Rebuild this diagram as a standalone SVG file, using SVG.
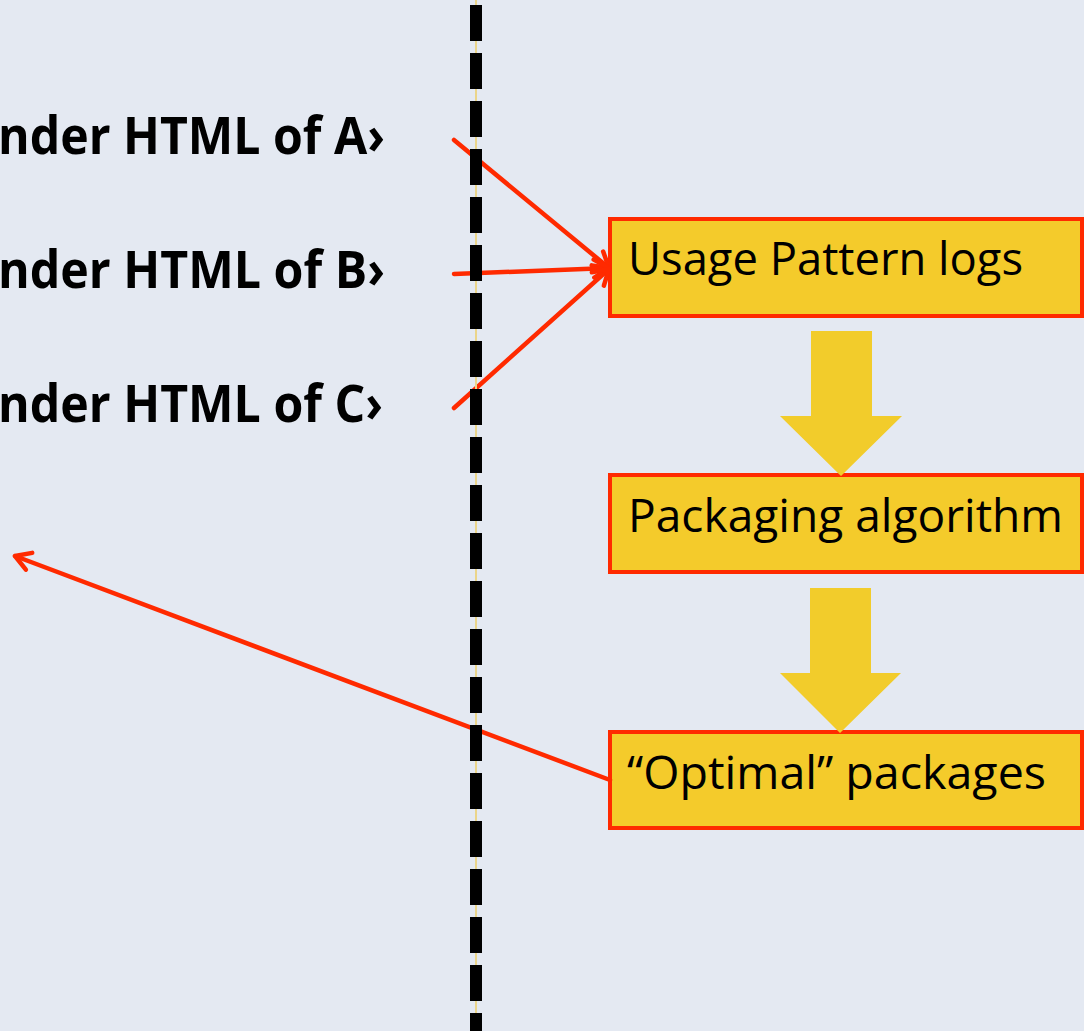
<svg xmlns="http://www.w3.org/2000/svg" width="1084" height="1031" viewBox="0 0 1084 1031">
  <style>
    .label { font-family: "Open Sans", "Noto Sans", "Liberation Sans", sans-serif; font-weight: bold; font-size: 52px; fill: #000; }
    .box { fill: #F4CB2B; stroke: #FF2A00; stroke-width: 4; }
    .boxtext { font-family: "Open Sans", "Noto Sans", "Liberation Sans", sans-serif; font-size: 45px; fill: #000; }
    .flow { fill: #F2CC2B; }
    .link { stroke: #FF2A00; stroke-width: 4.5; fill: none; stroke-linecap: round; }
  </style>
  <defs>
    <marker id="chevron" viewBox="0 0 24 24" refX="21" refY="12" markerWidth="24" markerHeight="24" markerUnits="userSpaceOnUse" orient="auto">
      <path d="M6,3 L21,12 L6,21" fill="none" stroke="#FF2A00" stroke-width="4.5" stroke-linecap="round" stroke-linejoin="round"/>
    </marker>
  </defs>

  <rect width="1084" height="1031" fill="#E4E9F2"/>

  <!-- client-side requests -->
  <g id="render-a"><text class="label" x="-2" y="154" textLength="387" lengthAdjust="spacingAndGlyphs">nder HTML of A›</text></g>
  <g id="render-b"><text class="label" x="-2" y="288" textLength="387" lengthAdjust="spacingAndGlyphs">nder HTML of B›</text></g>
  <g id="render-c"><text class="label" x="-2" y="422" textLength="385" lengthAdjust="spacingAndGlyphs">nder HTML of C›</text></g>

  <!-- server-side pipeline -->
  <g id="usage-logs">
    <rect class="box" x="610" y="219" width="472" height="97"/>
    <text class="boxtext" x="628" y="275" textLength="395" lengthAdjust="spacingAndGlyphs">Usage Pattern logs</text>
  </g>
  <g id="packaging">
    <rect class="box" x="610" y="475" width="472" height="97"/>
    <text class="boxtext" x="628" y="532" textLength="435" lengthAdjust="spacingAndGlyphs">Packaging algorithm</text>
  </g>
  <g id="packages">
    <rect class="box" x="610" y="732" width="472" height="96"/>
    <text class="boxtext" x="627" y="789" textLength="419" lengthAdjust="spacingAndGlyphs">“Optimal” packages</text>
  </g>

  <g id="connectors">
    <polygon class="flow" points="811,331 872,331 872,416 902,416 841,476 780,416 811,416"/>
    <polygon class="flow" points="810,588 871,588 871,673 901,673 840,733 780,673 810,673"/>
    <line class="link" x1="454" y1="140" x2="609" y2="268" marker-end="url(#chevron)"/>
    <line class="link" x1="454" y1="274" x2="609" y2="268" marker-end="url(#chevron)"/>
    <line class="link" x1="454" y1="408" x2="609" y2="269" marker-end="url(#chevron)"/>
    <line class="link" x1="610" y1="780" x2="15" y2="556" marker-end="url(#chevron)"/>
  </g>

  <!-- client / server boundary -->
  <g id="boundary">
    <line x1="476" y1="0" x2="476" y2="1031" stroke="#EBD58A" stroke-width="2"/>
    <line x1="476" y1="5" x2="476" y2="1031" stroke="#000" stroke-width="12" stroke-dasharray="36 12"/>
  </g>
</svg>
